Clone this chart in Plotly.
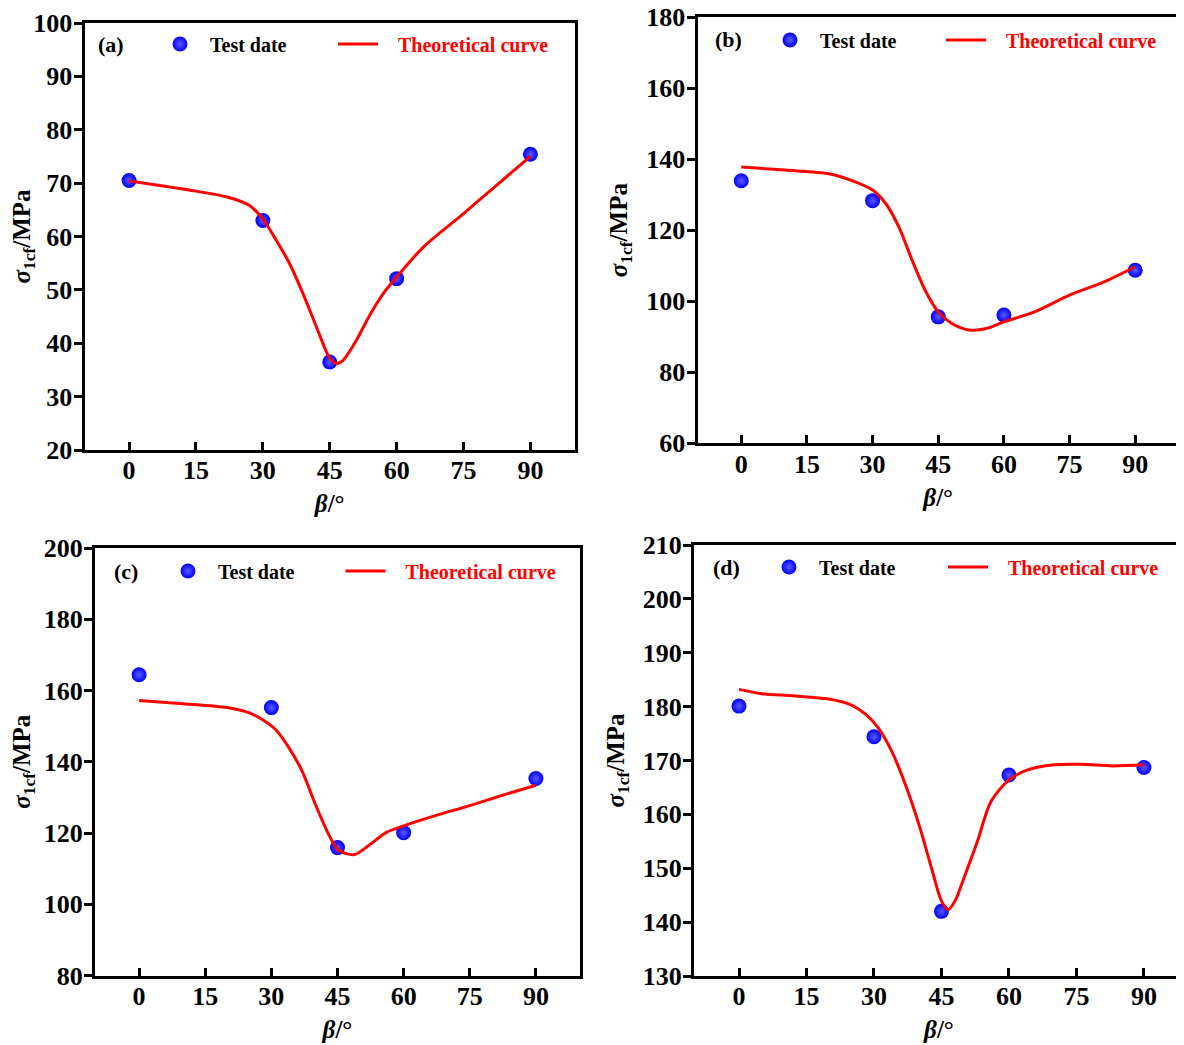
import plotly.graph_objects as go

# ---------------- data ----------------
beta_test = [0, 30, 45, 60, 90]
test_a = [70.5, 63.0, 36.5, 52.1, 75.4]
test_b = [133.9, 128.3, 95.6, 96.1, 108.7]
test_c = [164.4, 155.2, 115.9, 120.1, 135.3]
test_d = [180.1, 174.4, 142.0, 167.3, 168.7]

beta_a = [0, 15, 22, 27, 30, 33, 36, 39, 42, 45, 46.5, 48, 51, 54, 57, 60, 66, 75, 82, 90]
theory_a = [70.4, 68.5, 67.4, 65.8, 63.3, 59.3, 54.9, 49.3, 43.1, 37.2, 36.2, 36.8, 40.6, 45.3, 49.3, 52.4, 58.0, 64.3, 69.3, 75.0]

beta_b = [0, 10, 20, 25, 30, 33, 36, 39, 42, 45, 48, 52, 56, 60, 67, 75, 83, 90]
theory_b = [137.8, 136.9, 135.9, 134.1, 131.3, 127.5, 120.9, 111.6, 103.1, 97.0, 93.8, 91.9, 92.3, 94.2, 97.0, 101.7, 105.5, 109.7]

beta_c = [0, 10, 20, 25, 28, 31, 34, 37, 40, 43, 45, 47, 49, 52, 56, 60, 67, 75, 83, 90]
theory_c = [157.2, 156.3, 155.2, 153.7, 151.8, 149.0, 143.9, 137.3, 128.0, 119.6, 115.4, 114.2, 114.0, 116.4, 120.1, 122.0, 124.8, 127.7, 130.8, 133.4]

beta_d = [0, 5, 12, 20, 25, 28, 31, 34, 37, 40, 43, 45, 46.5, 48, 50, 53, 56, 60, 64, 70, 76, 83, 90]
theory_d = [183.2, 182.4, 182.0, 181.4, 180.3, 178.7, 176.0, 171.6, 165.5, 158.1, 149.4, 143.9, 142.3, 143.9, 148.2, 155.0, 162.4, 166.4, 168.2, 169.2, 169.3, 169.0, 169.2]

panel_labels = ["(a)", "(b)", "(c)", "(d)"]
x_ticks = [0, 15, 30, 45, 60, 75, 90]
y_ticks_a = [20, 30, 40, 50, 60, 70, 80, 90, 100]
y_ticks_b = [60, 80, 100, 120, 140, 160, 180]
y_ticks_c = [80, 100, 120, 140, 160, 180, 200]
y_ticks_d = [130, 140, 150, 160, 170, 180, 190, 200, 210]

# ---------------- layout helpers ----------------
OX, OY = 8, 8            # page body margin offset
W, H = 1184 - OX, 1045 - OY
FONT = "Liberation Serif, Times New Roman, serif"


def px(x):
    return (x - OX) / W


def py(y):
    return 1 - (y - OY) / H


panels = [
    dict(test=test_a, bx=beta_a, th=theory_a, yt=y_ticks_a, yr=[20, 100], xr=[-10, 100],
         dom_x=[84.5, 575], dom_y=[450, 23], leg=(180, 44), line0=338, lab=(111, 44), mirror_y=True),
    dict(test=test_b, bx=beta_b, th=theory_b, yt=y_ticks_b, yr=[60, 180], xr=[-10, 100],
         dom_x=[697.5, 1179], dom_y=[443.3, 17], leg=(790, 40), line0=946, lab=(728, 40), mirror_y=True),
    dict(test=test_c, bx=beta_c, th=theory_c, yt=y_ticks_c, yr=[80, 200], xr=[-10, 100],
         dom_x=[95, 580], dom_y=[975.5, 548], leg=(188, 571), line0=345.5, lab=(126, 571), mirror_y=True),
    dict(test=test_d, bx=beta_d, th=theory_d, yt=y_ticks_d, yr=[130, 210], xr=[-10, 98.9],
         dom_x=[694, 1184], dom_y=[976, 545], leg=(789, 567), line0=948, lab=(726, 567), mirror_y=False),
]

fig = go.Figure()
layout = dict(
    width=W, height=H,
    margin=dict(l=0, r=0, t=0, b=0),
    paper_bgcolor="white", plot_bgcolor="white",
    showlegend=True,
    font=dict(family=FONT, size=24, color="black", weight="bold"),
    annotations=[],
)

NB = "\u00a0"
for i, p in enumerate(panels):
    n = "" if i == 0 else str(i + 1)
    xa, ya = "x" + n, "y" + n
    lg_m = "legend" + n
    lg_l = "legend" + str(i + 5)
    fig.add_trace(go.Scatter(
        x=beta_test, y=p["test"], mode="markers", name="Test date",
        xaxis=xa, yaxis=ya, legend=lg_m, showlegend=True,
        marker=dict(size=15, color="#0000ff",
                    gradient=dict(type="radial", color="#5a5aff"),
                    line=dict(width=0)),
    ))
    fig.add_trace(go.Scatter(
        x=p["bx"], y=p["th"], mode="lines",
        name=NB * 3 + '<span style="color:#ff0000">Theoretical curve</span>',
        xaxis=xa, yaxis=ya, legend=lg_l, showlegend=True,
        line=dict(color="#ff0000", width=3, shape="spline", smoothing=0.8),
    ))
    axis_common = dict(showgrid=False, zeroline=False, showline=True, automargin=False,
                       linecolor="black", linewidth=3, tickwidth=3,
                       tickcolor="black", ticklabeloverflow="allow",
                       tickfont=dict(family=FONT, size=26, color="black", weight="bold"))
    layout["xaxis" + n] = dict(
        axis_common, domain=[px(p["dom_x"][0]), min(1.0, px(p["dom_x"][1]))],
        range=p["xr"], tickvals=x_ticks, ticks="inside", ticklen=8,
        ticklabelstandoff=-5,
        mirror=True, anchor=ya,
        title=dict(text="<i>β</i>/°", standoff=11,
                   font=dict(family=FONT, size=25, color="black", weight="bold")),
    )
    layout["yaxis" + n] = dict(
        axis_common, domain=[py(p["dom_y"][0]), py(p["dom_y"][1])],
        range=p["yr"], tickvals=p["yt"], ticks="outside", ticklen=8,
        ticklabelstandoff=-4,
        mirror=p["mirror_y"], anchor=xa,
        title=dict(text="<i>σ</i><sub>1cf</sub>/MPa", standoff=12,
                   font=dict(family=FONT, size=25, color="black", weight="bold")),
    )
    leg_common = dict(orientation="h", xanchor="left", yanchor="middle",
                      bgcolor="rgba(0,0,0,0)", borderwidth=0, visible=True,
                      font=dict(family=FONT, size=20, color="black", weight="bold"))
    layout[lg_m] = dict(leg_common, x=px(p["leg"][0] - 30), y=py(p["leg"][1]), itemwidth=50)
    layout[lg_l] = dict(leg_common, x=px(p["line0"] - 5), y=py(p["leg"][1]), itemwidth=40)
    layout["annotations"].append(dict(
        text=panel_labels[i], xref="paper", yref="paper",
        x=px(p["lab"][0]), y=py(p["lab"][1]), xanchor="center", yanchor="middle",
        showarrow=False, font=dict(family=FONT, size=22, color="black", weight="bold"),
    ))

fig.update_layout(**layout)
fig.write_html("out.html")
